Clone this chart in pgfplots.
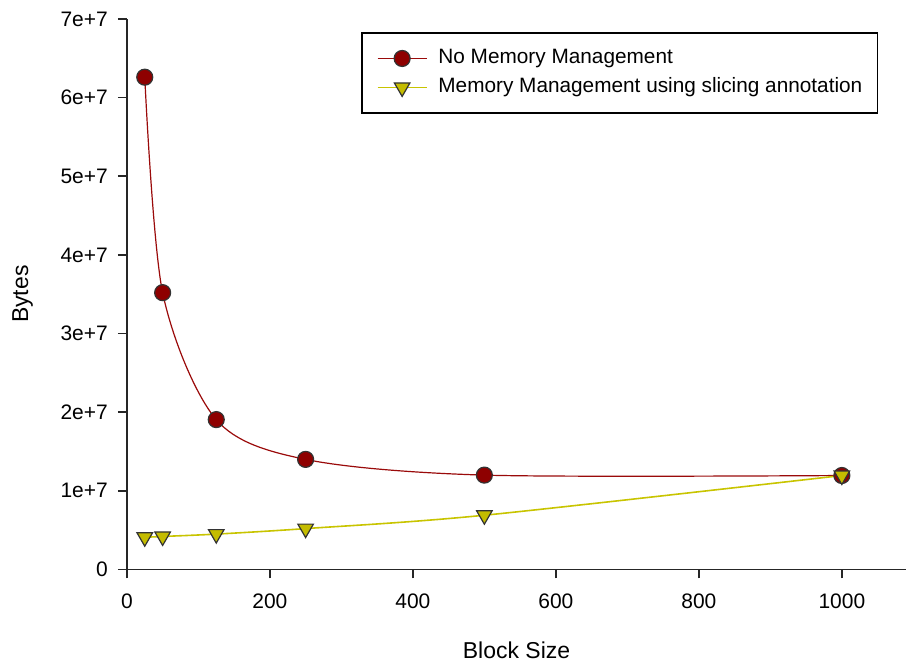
\documentclass[border=0pt]{standalone}
\usepackage{pgfplots}
\pgfplotsset{compat=1.18}
\usepackage{fontspec}
\setmainfont{Liberation Sans}
\definecolor{redline}{HTML}{9A0A0A}
\definecolor{redfill}{HTML}{8E0000}
\definecolor{yelline}{HTML}{C8C400}
\definecolor{yelfill}{HTML}{C4BC00}
\begin{document}
\begin{tikzpicture}
\begin{axis}[
  scale only axis,
  width=390pt, height=275.5pt,
  xmin=0, xmax=1090, ymin=0, ymax=7e7,
  axis lines=left,
  axis line style={-, thick, black!85},
  tick align=outside,
  major tick length=4.5pt,
  tick style={thick, black!85},
  xtick={0,200,400,600,800,1000},
  ytick={0,1e7,2e7,3e7,4e7,5e7,6e7,7e7},
  yticklabels={0,1e+7,2e+7,3e+7,4e+7,5e+7,6e+7,7e+7},
  scaled y ticks=false,
  /pgf/number format/assume math mode=true,
  /pgf/number format/1000 sep={},
  tick label style={font=\fontsize{10.5}{12}\selectfont},
  xticklabel style={yshift=-4pt},
  yticklabel style={xshift=-1.5pt},
  xlabel={Block Size}, ylabel={Bytes},
  label style={font=\fontsize{11.5}{13}\selectfont},
  xlabel style={at={(axis description cs:0.5,0)}, anchor=north, yshift=-32.5pt},
  ylabel style={at={(axis description cs:0,0.5)}, anchor=south, yshift=43.5pt},
  legend style={at={(axis description cs:0.964,0.976)}, anchor=north east,
    draw=black, thick, font=\fontsize{10.4}{12}\selectfont,
    inner xsep=7.5pt, inner ysep=8pt,
    nodes={inner sep=0pt, text height=7.5pt, text depth=2pt},
    row sep=5pt, column sep=5.5pt},
  legend cell align=left,
  legend image code/.code={
    \draw[#1] (0pt,0pt) -- (24.5pt,0pt);
    \draw[#1, only marks] plot coordinates {(12.25pt,0pt)};
  },
]
\addplot[redline, line width=0.6pt, smooth, mark=*, mark size=4pt,
  mark options={fill=redfill, draw=black!80, line width=0.6pt}]
  coordinates {(25,6.26e7) (50,3.52e7) (125,1.906e7) (250,1.40e7) (500,1.20e7) (1000,1.195e7)};
\addlegendentry{No Memory Management}
\addplot[yelline, line width=0.8pt, smooth, mark=triangle*, mark size=4.5pt,
  mark options={rotate=180, fill=yelfill, draw=black!80, line width=0.6pt}]
  coordinates {(25,4.1e6) (50,4.2e6) (125,4.5e6) (250,5.2e6) (500,6.9e6) (1000,1.195e7)};
\addlegendentry{Memory Management using slicing annotation}
\end{axis}
\useasboundingbox ([xshift=-63.5pt,yshift=-47pt]current axis.south west) rectangle ([yshift=9.5pt]current axis.north east);
\end{tikzpicture}
\end{document}
